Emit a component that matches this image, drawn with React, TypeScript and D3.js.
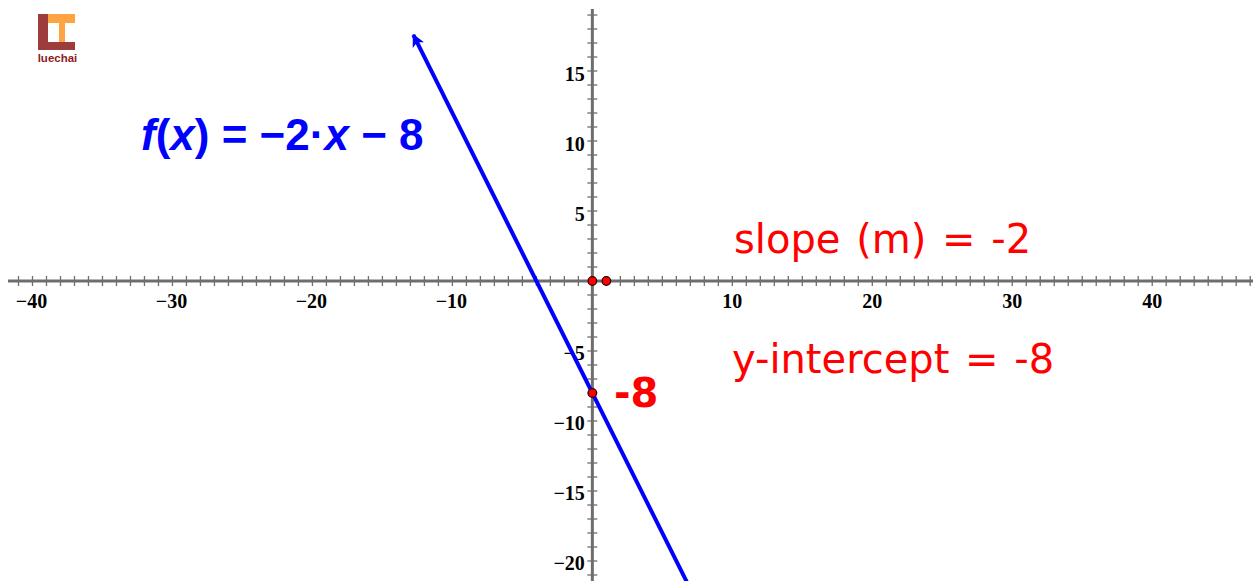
import React from "react";
import * as d3 from "d3";

// line y = m*x + b
const slope = -2;
const intercept = -8;
const lineStartX = -12.79; // arrow tip end
const lineEndX = 7;

const xDomain = [-41.75, 47.2];
const yDomain = [-21.43, 19.43];
const xTickLabels = [-40, -30, -20, -10, 10, 20, 30, 40];
const yTickLabels = [15, 10, 5, -5, -10, -15, -20];
const markedPoints = [
  [0, 0],
  [1, 0],
  [0, -8],
];

const W = 1255;
const H = 581;

const fmt = (v: number) => (v < 0 ? "\u2212" + Math.abs(v) : String(v));

const App = () => {
  const x = d3.scaleLinear().domain(xDomain).range([8, 1253]);
  const y = d3.scaleLinear().domain(yDomain).range([581, 9]);

  const xMinor = d3.range(Math.ceil(xDomain[0]), Math.floor(xDomain[1]) + 1);
  const yMinor = d3.range(Math.ceil(yDomain[0]), Math.floor(yDomain[1]) + 1);

  const line = d3
    .line<number>()
    .x((d) => x(d))
    .y((d) => y(slope * d + intercept));

  const axisColor = "#6e6e6e";
  const tickFont = "'Liberation Serif', 'Times New Roman', serif";

  return (
    <svg
      width={W}
      height={H}
      style={{ position: "absolute", left: 0, top: 0, background: "#fff" }}
    >
      <defs>
        <marker
          id="arrow"
          viewBox="0 0 10 10"
          refX="9"
          refY="5"
          markerWidth="3.2"
          markerHeight="3.2"
          orient="auto"
          markerUnits="strokeWidth"
        >
          <path d="M0,0 L10,5 L0,10 L2.5,5 z" fill="#0000ff" />
        </marker>
      </defs>

      {/* logo */}
      <g>
        <rect x={38} y={14} width={10} height={36} fill="#9c3d3c" />
        <rect x={38} y={42} width={37} height={8} fill="#9c3d3c" />
        <rect x={48} y={14} width={27} height={9} fill="#fca342" />
        <rect x={59} y={23} width={6} height={19} fill="#fca342" />
        <text
          x={57.5}
          y={62}
          textAnchor="middle"
          fontFamily="'Liberation Sans', Arial, sans-serif"
          fontWeight="bold"
          fontSize={11.5}
          fill="#8e1b1b"
        >
          luechai
        </text>
      </g>

      {/* x axis */}
      <line x1={8} x2={1253} y1={y(0)} y2={y(0)} stroke={axisColor} strokeWidth={3} />
      {xMinor.map((v) => (
        <line
          key={"xt" + v}
          x1={x(v)}
          x2={x(v)}
          y1={y(0) - 5}
          y2={y(0) + 5}
          stroke={axisColor}
          strokeWidth={1.3}
        />
      ))}
      {/* y axis */}
      <line x1={x(0)} x2={x(0)} y1={9} y2={581} stroke={axisColor} strokeWidth={3} />
      {yMinor.map((v) => (
        <line
          key={"yt" + v}
          x1={x(0) - 5}
          x2={x(0) + 5}
          y1={y(v)}
          y2={y(v)}
          stroke={axisColor}
          strokeWidth={1.3}
        />
      ))}

      {xTickLabels.map((v) => (
        <text
          key={"xl" + v}
          x={x(v) - (v < 0 ? 1 : 0)}
          y={y(0) + 27}
          textAnchor="middle"
          fontFamily={tickFont}
          fontWeight="bold"
          fontSize={20}
          fill="#000"
        >
          {fmt(v)}
        </text>
      ))}
      {yTickLabels.map((v) => (
        <text
          key={"yl" + v}
          x={x(0) - 7.5}
          y={y(v) + 9.5}
          textAnchor="end"
          fontFamily={tickFont}
          fontWeight="bold"
          fontSize={20}
          fill="#000"
        >
          {fmt(v)}
        </text>
      ))}

      {/* the function line */}
      <path
        d={line([lineEndX, lineStartX]) || ""}
        fill="none"
        stroke="#0000ff"
        strokeWidth={4}
        markerEnd="url(#arrow)"
      />

      {markedPoints.map(([px, py], i) => (
        <circle
          key={"p" + i}
          cx={x(px)}
          cy={y(py)}
          r={4.3}
          fill="#ff0000"
          stroke="#2a0000"
          strokeWidth={1.2}
        />
      ))}

      {/* labels */}
      <text
        x={141}
        y={150}
        fontFamily="'Liberation Sans', Arial, sans-serif"
        fontWeight="bold"
        fontSize={44}
        fill="#0000ff"
      >
        <tspan fontStyle="italic">f</tspan>
        <tspan>(</tspan>
        <tspan fontStyle="italic">x</tspan>
        <tspan>) = </tspan>
        <tspan>{"\u22122\u00b7"}</tspan>
        <tspan fontStyle="italic">x</tspan>
        <tspan>{" \u2212 8"}</tspan>
      </text>

      <text
        x={734}
        y={253}
        fontFamily="'DejaVu Sans', Verdana, sans-serif"
        fontSize={40}
        wordSpacing={3}
        fill="#ff0000"
      >
        slope (m) = -2
      </text>
      <text
        x={732}
        y={373}
        fontFamily="'DejaVu Sans', Verdana, sans-serif"
        fontSize={40}
        wordSpacing={3}
        fill="#ff0000"
      >
        y-intercept = -8
      </text>
      <text
        x={614}
        y={407}
        fontFamily="'DejaVu Sans', Verdana, sans-serif"
        fontWeight="bold"
        fontSize={40}
        fill="#ff0000"
      >
        -8
      </text>
    </svg>
  );
};

export default App;
